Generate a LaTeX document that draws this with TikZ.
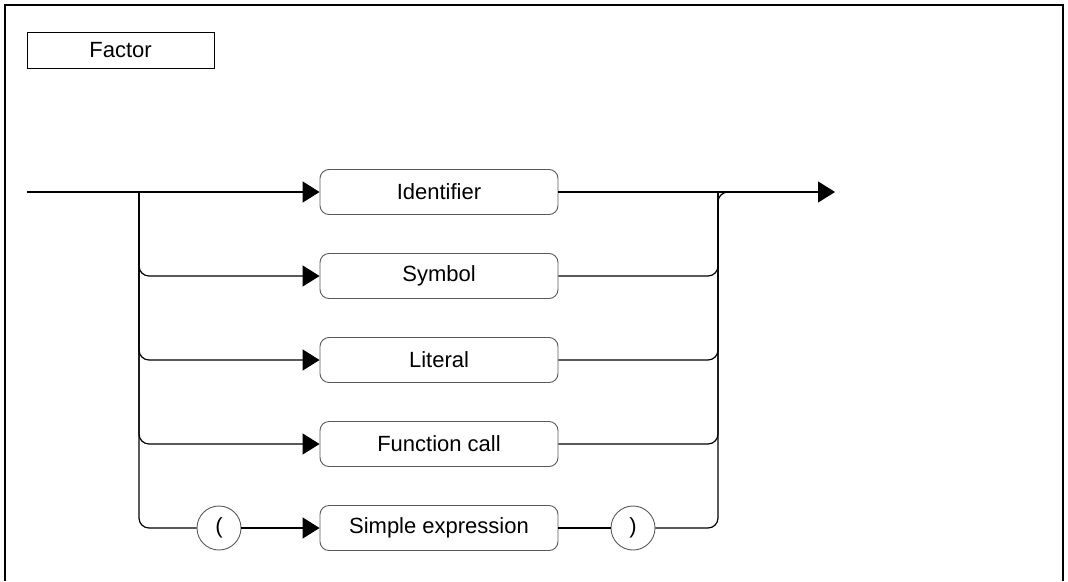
\documentclass[tikz,border=0pt]{standalone}
\usepackage{fontspec}
\setmainfont{Liberation Sans}
\usetikzlibrary{arrows.meta}
\begin{document}
\begin{tikzpicture}[x=1pt,y=-1pt,
  every node/.style={font=\fontsize{22}{25}\selectfont},
  rbox/.style={draw=black!65,line width=0.9pt,rounded corners=9pt,minimum width=238pt,minimum height=45pt,inner sep=0pt},
  term/.style={draw=black!65,line width=0.9pt,circle,minimum size=44pt,inner sep=0pt},
  conn/.style={line width=1.2pt,black},
  arr/.style={conn,-{Triangle[length=17pt,width=21pt]}},
  curved/.style={conn,rounded corners=10pt},
  curvedarr/.style={curved,-{Triangle[length=17pt,width=21pt]}}]
\useasboundingbox (0,0) rectangle (1068,581);
% frame
\draw[line width=1.6pt] (5,581) -- (5,5) -- (1063,5) -- (1063,581);
% title
\node[draw,line width=1pt,minimum width=187pt,minimum height=36pt,inner sep=0pt] (title) at (120.5,50) {Factor};
% boxes
\node[rbox] (id) at (439,192) {Identifier};
\node[rbox] (sym) at (439,276) {Symbol};
\node[rbox] (lit) at (439,360) {Literal};
\node[rbox] (fun) at (439,444) {Function call};
\node[rbox] (sexp) at (439,528) {Simple expression};
\node[term] (lp) at (219,528) {(};
\node[term] (rp) at (633,528) {)};
\coordinate (start) at (27,192);
\coordinate (lsplit) at (139,192);
\coordinate (rjoin) at (718,192);
\coordinate (rjoinr) at (740,192);
\coordinate (end) at (835,192);
% main line
\draw[arr] (start) -- (id.west);
\draw[arr] (id.east) -- (end);
% left branches
\draw[curvedarr] (lsplit) |- (sym.west);
\draw[curvedarr] (lsplit) |- (lit.west);
\draw[curvedarr] (lsplit) |- (fun.west);
\draw[curved] (lsplit) |- (lp.west);
\draw[arr] (lp.east) -- (sexp.west);
\draw[conn] (sexp.east) -- (rp.west);
% right branches
\draw[curved] (sym.east) -| (rjoin);
\draw[curved] (lit.east) -| (rjoin);
\draw[curved] (fun.east) -| (rjoin);
\draw[curved] (rp.east) -| (rjoin) -- (rjoinr);
\end{tikzpicture}
\end{document}
